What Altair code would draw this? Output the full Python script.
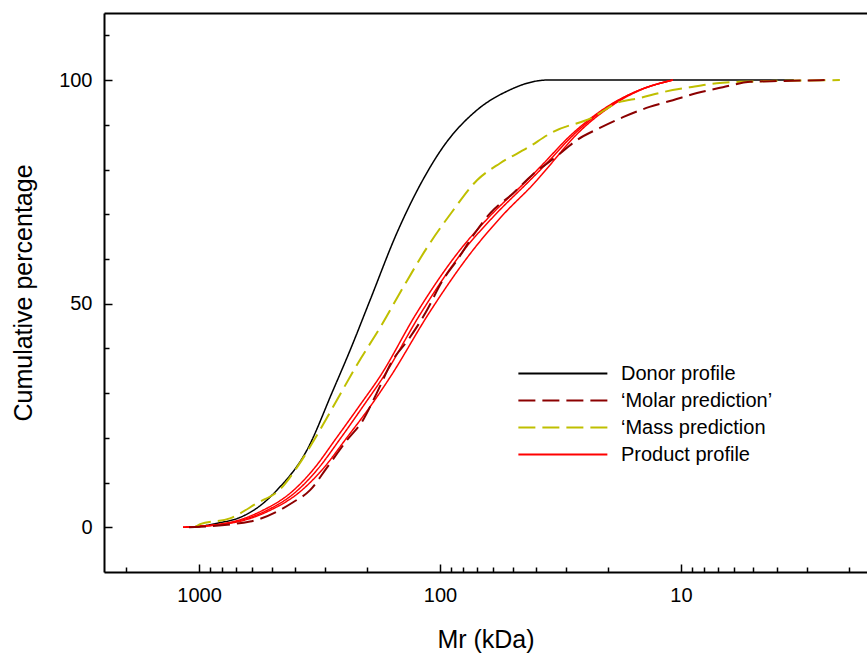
import altair as alt
import pandas as pd

# ---- data ----
SERIES = ["Donor profile", "\u2018Molar prediction\u2019", "\u2018Mass prediction", "Product profile"]
COLORS = ["#000000", "#8B0000", "#BFBF00", "#FF0000"]
DASHES = [[1, 0], [17, 7], [17, 7], [1, 0]]

donor_mr = [1040, 841, 676, 575, 475, 357, 278, 236, 195, 151, 118, 97.2, 70.2, 51.3, 43.5, 36.0, 3.4]
donor_pct = [0, 0.9, 2.2, 4.3, 8.3, 17.2, 30.6, 39.6, 50.8, 65.8, 77.6, 85.0, 93.3, 97.8, 99.3, 100, 100]

mass_mr = [1039, 990, 744, 574, 461, 392, 324, 268, 219, 177, 142, 113, 89.2, 70.2, 56.3, 43.5, 34.0,
           23.2, 18.4, 14.8, 11.9, 9.18, 7.1, 5.69, 2.19]
mass_pct = [0, 0.7, 2.0, 5.4, 8.5, 13.4, 20.6, 28.4, 36.7, 44.7, 53.7, 62.6, 70.5, 77.6, 81.4, 84.8, 88.4,
            91.7, 94.9, 96.0, 97.3, 98.4, 99.3, 99.6, 100]

molar_mr = [1100, 614, 407, 346, 294, 243, 209, 183, 157, 136, 115, 97.2, 85.0, 71.6, 62.0, 49.7, 41.0, 32.7,
            27.0, 21.7, 17.4, 13.5, 10.8, 8.58, 6.70, 5.17, 3.88, 2.52]
molar_pct = [0, 1.3, 5.6, 8.3, 13.4, 19.5, 23.9, 30.0, 37.4, 41.8, 47.9, 55.3, 59.7, 65.8, 70.2, 74.7, 79.0, 83.0,
             86.6, 89.3, 91.7, 94.0, 95.5, 97.1, 98.4, 99.6, 99.8, 100]

prod_a_mr = [1165, 744, 543, 419, 337, 268, 215, 177, 125, 82.6, 62.0, 43.5, 38.5, 28.1, 20.3, 14.8, 10.8]
prod_b_mr = [1165, 730, 522, 403, 324, 257, 207, 171, 120, 79.5, 59.7, 42.3, 37.4, 27.5, 20.1, 14.8, 10.8]
prod_c_mr = [1165, 709, 507, 388, 309, 243, 193, 160, 111, 72.9, 55.3, 39.6, 35.6, 26.8, 19.7, 14.7, 10.8]
prod_pct = [0, 1.1, 3.8, 7.6, 12.8, 20.1, 27.3, 33.8, 47.9, 62.0, 69.6, 77.6, 80.5, 88.1, 94.0, 97.8, 100]

X_MAJOR = [1000, 100, 10]
X_MINOR = [2000, 900, 800, 700, 600, 500, 400, 300, 200, 90, 80, 70, 60, 50, 40, 30, 20,
           9, 8, 7, 6, 5, 4, 3, 2]
Y_MAJOR = [0, 50, 100]
Y_MINOR = [10, 20, 30, 40, 60, 70, 80, 90, 110]

rows = []
def add(series, rep, mrs, pcts):
    for m, p in zip(mrs, pcts):
        rows.append({"series": series, "rep": rep, "mr": m, "pct": p})

add(SERIES[0], "d", donor_mr, donor_pct)
add(SERIES[1], "m", molar_mr, molar_pct)
add(SERIES[2], "s", mass_mr, mass_pct)
add(SERIES[3], "a", prod_a_mr, prod_pct)
add(SERIES[3], "b", prod_b_mr, prod_pct)
add(SERIES[3], "c", prod_c_mr, prod_pct)
df = pd.DataFrame(rows)

x_scale = alt.Scale(type="log", domain=[1.69, 2479], reverse=True, nice=False)
y_scale = alt.Scale(domain=[-10, 115], nice=False, zero=False)
color_scale = alt.Scale(domain=SERIES, range=COLORS)
dash_scale = alt.Scale(domain=SERIES, range=DASHES)

legend = alt.Legend(
    title=None, orient="none", legendX=413, legendY=348,
    symbolType="M-1,0L7,0", symbolSize=495, symbolStrokeWidth=2,
    labelFontSize=20, labelColor="black", labelOffset=79, rowPadding=4, padding=0,
    labelLimit=400,
)

x_major = alt.Axis(orient="bottom", values=X_MAJOR, format="d", tickSize=8, tickWidth=1.5,
                   tickColor="black", offset=-8, domain=False, grid=False,
                   labelFontSize=20, labelPadding=13, labelColor="black", labelFlush=False,
                   labelOverlap=False, title="Mr (kDa)", titleFontSize=25,
                   titleFontWeight="normal", titlePadding=22, titleColor="black")
x_minor = alt.Axis(orient="bottom", values=X_MINOR, tickSize=5, tickWidth=1.5, tickColor="black",
                   offset=-5, domain=False, labels=False, title=None, grid=False)
x_frame_b = alt.Axis(orient="bottom", ticks=False, labels=False, domain=True, domainWidth=2,
                     domainColor="black", title=None, grid=False)
x_frame_t = alt.Axis(orient="top", ticks=False, labels=False, domain=True, domainWidth=2,
                     domainColor="black", title=None, grid=False)

y_major = alt.Axis(orient="left", values=Y_MAJOR, format="d", tickSize=8, tickWidth=1.5,
                   tickColor="black", offset=-8, domain=False, grid=False,
                   labelFontSize=20, labelPadding=12, labelColor="black", labelFlush=False,
                   title="Cumulative percentage", titleFontSize=25, titleFontWeight="normal",
                   titlePadding=22, titleColor="black")
y_minor = alt.Axis(orient="left", values=Y_MINOR, tickSize=5, tickWidth=1.5, tickColor="black",
                   offset=-5, domain=False, labels=False, title=None, grid=False)
y_frame = alt.Axis(orient="left", ticks=False, labels=False, domain=True, domainWidth=2,
                   domainColor="black", title=None, grid=False)


def layer(name, width, xaxis, yaxis):
    return alt.Chart(df).transform_filter(alt.datum.series == name).mark_line(
        interpolate="monotone", strokeWidth=width
    ).encode(
        x=alt.X("mr:Q", scale=x_scale, axis=xaxis),
        y=alt.Y("pct:Q", scale=y_scale, axis=yaxis),
        color=alt.Color("series:N", scale=color_scale, legend=legend),
        strokeDash=alt.StrokeDash("series:N", scale=dash_scale, legend=legend),
        detail="rep:N",
    )

chart = alt.layer(
    layer(SERIES[0], 1.5, x_major, y_major),
    layer(SERIES[3], 1.5, x_minor, y_minor),
    layer(SERIES[2], 2, x_frame_b, y_frame),
    layer(SERIES[1], 2, x_frame_t, None),
).resolve_axis(x="independent", y="independent").properties(
    width=763, height=559,
    autosize=alt.AutoSizeParams(type="none"),
    padding={"left": 104, "top": 13, "right": 0, "bottom": 82},
    background="white",
).configure_view(stroke=None).configure(font="Liberation Sans")

chart.save("out.html", embed_options={"renderer": "svg", "actions": False})
